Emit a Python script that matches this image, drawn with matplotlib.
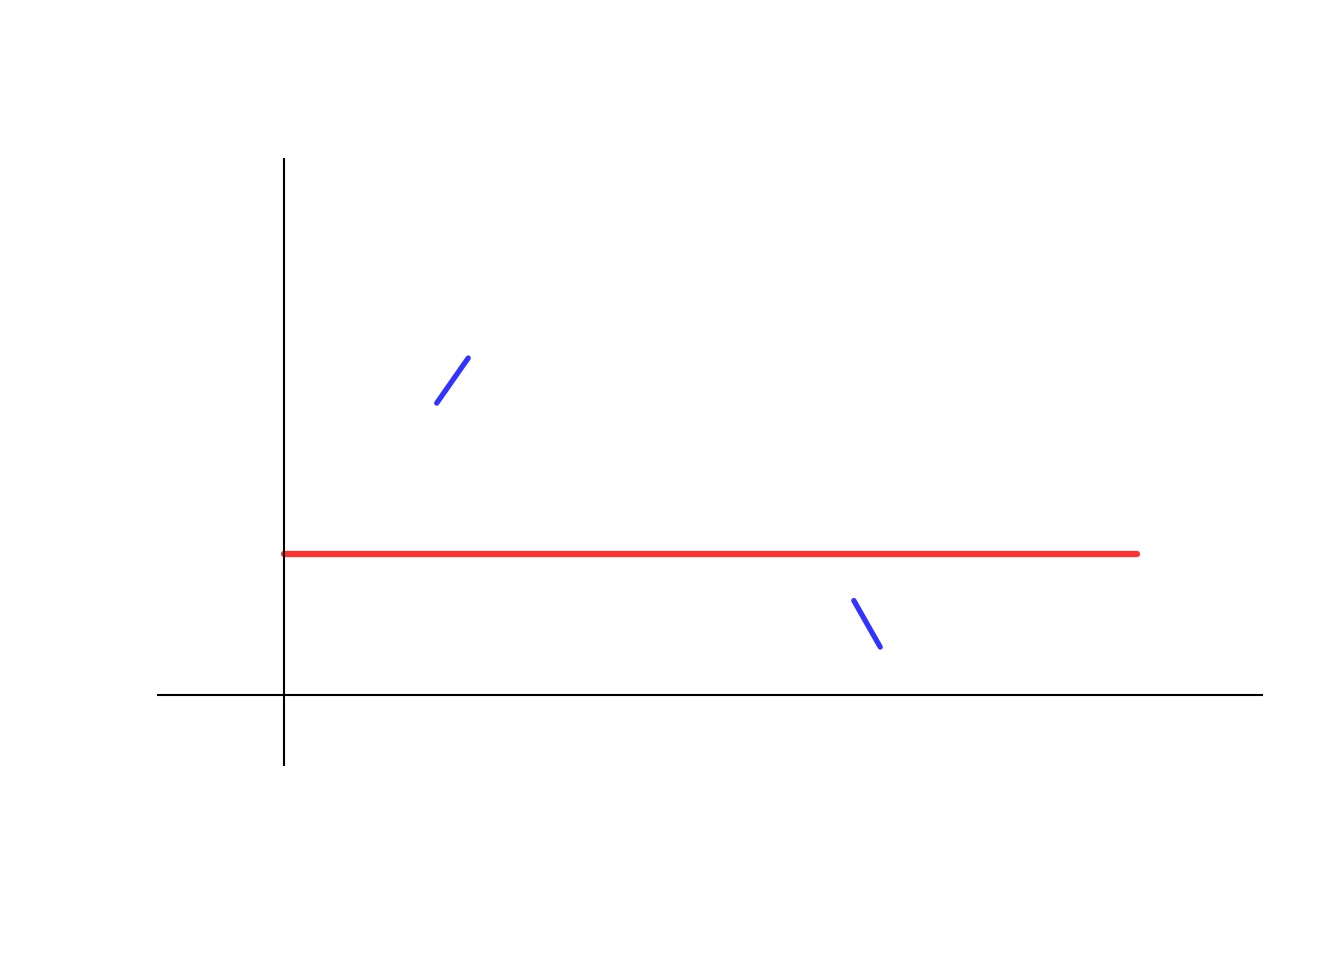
import matplotlib
matplotlib.use("Agg")
import matplotlib.pyplot as plt

# Data (in data units: x axis at y=0, y axis at x=0)
axis_x_range = [-1.49, 11.48]
axis_y_range = [-0.50, 3.81]
level_x = [0.0, 10.0]
level_y = [1.0, 1.0]
seg1_x = [1.79, 2.16]
seg1_y = [2.07, 2.39]
seg2_x = [6.68, 6.99]
seg2_y = [0.67, 0.34]

fig = plt.figure(figsize=(13.44, 9.6), dpi=100)
ax = fig.add_axes([0, 0, 1, 1])
ax.set_xlim((0 - 284) / 85.3, (1344 - 284) / 85.3)
ax.set_ylim((695 - 960) / 141, (695 - 0) / 141)
ax.axis("off")

ax.plot(level_x, level_y, color="#FF3333", lw=4.5, solid_capstyle="round", zorder=1)
ax.plot(axis_x_range, [0, 0], color="black", lw=1.5, solid_capstyle="butt", zorder=2)
ax.plot([0, 0], axis_y_range, color="black", lw=1.5, solid_capstyle="butt", zorder=2)
ax.plot(seg1_x, seg1_y, color="#3333FF", lw=3.8, solid_capstyle="round", zorder=3)
ax.plot(seg2_x, seg2_y, color="#3333FF", lw=3.8, solid_capstyle="round", zorder=3)

fig.savefig("out.png", dpi=100, facecolor="white")
